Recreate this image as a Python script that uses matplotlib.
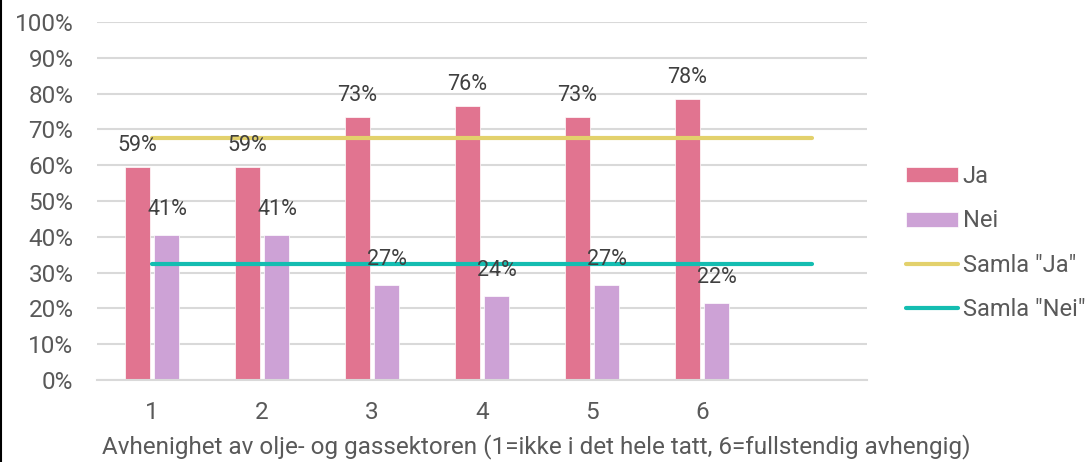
import matplotlib.pyplot as plt
from matplotlib.lines import Line2D
import numpy as np

plt.rcParams['font.family'] = ['Roboto', 'DejaVu Sans']

# Data
categories = ['1', '2', '3', '4', '5', '6', '']
ja = [59.4, 59.4, 73.4, 76.4, 73.4, 78.4]
nei = [40.6, 40.6, 26.6, 23.6, 26.6, 21.6]
samla_ja = 67.6
samla_nei = 32.4

c_ja = '#E17490'
c_nei = '#CDA2D6'
c_sja = '#E3D16C'
c_snei = '#14BDB1'

fig = plt.figure(figsize=(10.91, 4.62), dpi=100)
ax = fig.add_axes([97/1091, 1-380/462, 770/1091, 358/462])

x = np.arange(1, len(categories) + 1)
xb = x[:len(ja)]
w = 0.227
off = 0.136

b1 = ax.bar(xb - off, ja, w, color=c_ja, edgecolor='white', linewidth=0.5, label='Ja', zorder=2)
b2 = ax.bar(xb + off, nei, w, color=c_nei, edgecolor='white', linewidth=0.5, label='Nei', zorder=2)
l1, = ax.plot(x, [samla_ja]*len(x), color=c_sja, lw=3, solid_capstyle='round', label='Samla "Ja"', zorder=3)
l2, = ax.plot(x, [samla_nei]*len(x), color=c_snei, lw=3, solid_capstyle='round', label='Samla "Nei"', zorder=3)

for xi, v in zip(xb - off, ja):
    ax.annotate('%d%%' % round(v - 0.4), (xi, v), xytext=(0, 16), textcoords='offset points',
                ha='center', va='center', fontsize=15.5, color='#404040', zorder=5)
for xi, v in zip(xb + off, nei):
    ax.annotate('%d%%' % round(v + 0.4), (xi, v), xytext=(0, 18), textcoords='offset points',
                ha='center', va='center', fontsize=15.5, color='#404040', zorder=5)

ax.set_xlim(0.5, len(categories) + 0.5)
ax.set_ylim(0, 100)
ax.set_xticks(x)
ax.set_xticklabels(categories)
ax.set_yticks(np.arange(0, 101, 10))
ax.set_yticklabels(['%d%%' % t for t in range(0, 101, 10)])
ax.tick_params(axis='both', length=0, labelsize=17.5, colors='#595959')
ax.tick_params(axis='y', pad=17)
ax.tick_params(axis='x', pad=15)
ax.grid(axis='y', color='#D9D9D9', lw=1.5, zorder=0)
ax.set_axisbelow(True)
for s in ['top', 'right', 'left']:
    ax.spines[s].set_visible(False)
ax.spines['bottom'].set_color('#D9D9D9')
ax.spines['bottom'].set_linewidth(1.5)

ax.set_xlabel('Avhenighet av olje- og gassektoren (1=ikke i det hele tatt, 6=fullstendig avhengig)',
              fontsize=17.5, color='#595959')
ax.xaxis.set_label_coords((536 - 97) / 770, -(447 - 380) / 358)
ax.xaxis.label.set_va('center')

leg = ax.legend([b1, b2, l1, l2], ['Ja', 'Nei', 'Samla "Ja"', 'Samla "Nei"'],
                loc='center left', bbox_to_anchor=(906/1091, 1-243/462), bbox_transform=fig.transFigure,
                frameon=False, fontsize=17, handlelength=2.2, handletextpad=0.2,
                labelspacing=0.9, borderaxespad=0, borderpad=0, handleheight=0.6)
for t in leg.get_texts():
    t.set_color('#595959')

# left border of the image
fig.add_artist(Line2D([0.001, 0.001], [0, 1], transform=fig.transFigure, color='black', lw=1.5))

fig.savefig('out.png', dpi=100)
